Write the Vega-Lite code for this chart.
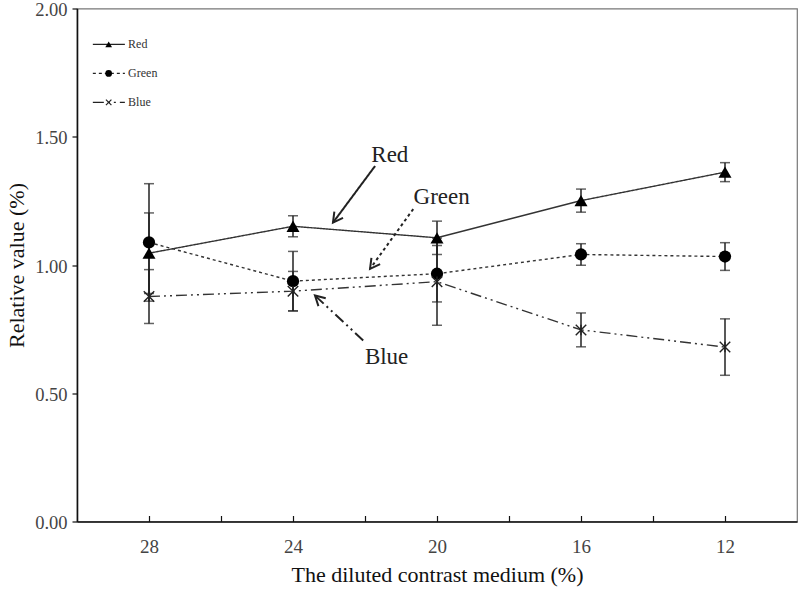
{
  "$schema": "https://vega.github.io/schema/vega-lite/v6.json",
  "width": 720,
  "height": 513,
  "autosize": "none",
  "padding": {"left": 77, "top": 8.5, "right": 3, "bottom": 67.5},
  "background": "white",
  "config": {
    "font": "Liberation Serif",
    "view": {"stroke": "#777", "strokeWidth": 1.2}
  },
  "datasets": {
    "main": [
      {"series": "Red", "conc": 28, "value": 1.046, "err": 0.157},
      {"series": "Red", "conc": 24, "value": 1.151, "err": 0.041},
      {"series": "Red", "conc": 20, "value": 1.106, "err": 0.065},
      {"series": "Red", "conc": 16, "value": 1.251, "err": 0.045},
      {"series": "Red", "conc": 12, "value": 1.362, "err": 0.037},
      {"series": "Green", "conc": 28, "value": 1.088, "err": 0.229},
      {"series": "Green", "conc": 24, "value": 0.937, "err": 0.116},
      {"series": "Green", "conc": 20, "value": 0.966, "err": 0.11},
      {"series": "Green", "conc": 16, "value": 1.041, "err": 0.042},
      {"series": "Green", "conc": 12, "value": 1.033, "err": 0.054},
      {"series": "Blue", "conc": 28, "value": 0.877, "err": 0.105},
      {"series": "Blue", "conc": 24, "value": 0.898, "err": 0.077},
      {"series": "Blue", "conc": 20, "value": 0.935, "err": 0.17},
      {"series": "Blue", "conc": 16, "value": 0.747, "err": 0.066},
      {"series": "Blue", "conc": 12, "value": 0.68, "err": 0.11}
    ],
    "arrows": [
      {"series": "Red", "x": 21.72, "y": 1.386, "x2": 22.89, "y2": 1.165},
      {"series": "Green", "x": 20.66, "y": 1.218, "x2": 21.86, "y2": 0.985},
      {"series": "Blue", "x": 22.05, "y": 0.706, "x2": 23.39, "y2": 0.881}
    ],
    "labels": [
      {"series": "Red", "x": 21.31, "y": 1.427},
      {"series": "Green", "x": 19.87, "y": 1.264},
      {"series": "Blue", "x": 21.4, "y": 0.641}
    ],
    "legend": [
      {"series": "Red", "x": 29.56, "x2": 28.67, "xm": 29.12, "xt": 28.58, "y": 1.86},
      {"series": "Green", "x": 29.56, "x2": 28.67, "xm": 29.12, "xt": 28.58, "y": 1.747},
      {"series": "Blue", "x": 29.56, "x2": 28.67, "xm": 29.12, "xt": 28.58, "y": 1.634}
    ]
  },
  "layer": [
    {
      "data": {"name": "main"},
      "mark": {"type": "errorbar", "ticks": {"size": 10, "thickness": 1.5, "color": "#222"}, "rule": {"strokeWidth": 1.5, "color": "#222"}},
      "encoding": {
        "x": {"field": "conc", "type": "quantitative",
          "scale": {"domain": [30, 10], "nice": false, "zero": false},
          "axis": {
            "values": [28, 26, 24, 22, 20, 18, 16, 14, 12],
            "labelExpr": "datum.value % 4 == 0 ? datum.value : ''",
            "title": "The diluted contrast medium (%)",
            "grid": false,
            "domainColor": "#111", "domainWidth": 1.6,
            "tickColor": "#111", "tickWidth": 1.2, "tickSize": -6,
            "labelPadding": 22, "labelFontSize": 19, "labelColor": "#444",
            "labelFont": "Liberation Serif",
            "titleFont": "Liberation Serif", "titleFontSize": 22, "titleFontWeight": "normal",
            "titleColor": "#111", "titlePadding": 8
          }},
        "y": {"field": "value", "type": "quantitative",
          "scale": {"domain": [0, 2], "nice": false},
          "axis": {
            "values": [0, 0.5, 1, 1.5, 2],
            "format": ".2f",
            "title": "Relative value (%)",
            "grid": false,
            "domainColor": "#111", "domainWidth": 1.6,
            "tickColor": "#111", "tickWidth": 1.2, "tickSize": 5,
            "labelPadding": 5, "labelFontSize": 18.5, "labelOffset": 1, "labelColor": "#444",
            "labelFont": "Liberation Serif",
            "titleFont": "Liberation Serif", "titleFontSize": 22, "titleFontWeight": "normal",
            "titleColor": "#111", "titlePadding": 6
          }},
        "yError": {"field": "err"}
      }
    },
    {
      "data": {"name": "main"},
      "mark": {"type": "line", "strokeWidth": 1.4, "color": "#333"},
      "encoding": {
        "x": {"field": "conc", "type": "quantitative"},
        "y": {"field": "value", "type": "quantitative"},
        "detail": {"field": "series"},
        "strokeDash": {"field": "series", "type": "nominal",
          "scale": {"domain": ["Red", "Green", "Blue"], "range": [[1, 0], [3, 3], [11, 4, 2, 4, 2, 4]]},
          "legend": null}
      }
    },
    {
      "data": {"name": "main"},
      "transform": [{"filter": "datum.series != 'Blue'"}],
      "mark": {"type": "point", "filled": true, "color": "#000", "opacity": 1},
      "encoding": {
        "x": {"field": "conc", "type": "quantitative"},
        "y": {"field": "value", "type": "quantitative"},
        "shape": {"field": "series", "type": "nominal",
          "scale": {"domain": ["Red", "Green"], "range": ["triangle-up", "circle"]}, "legend": null},
        "size": {"field": "series", "type": "nominal",
          "scale": {"domain": ["Red", "Green"], "range": [170, 150]}, "legend": null}
      }
    },
    {
      "data": {"name": "main"},
      "transform": [{"filter": "datum.series == 'Blue'"}],
      "mark": {"type": "point", "filled": false, "shape": "M -1 -1 L 1 1 M -1 1 L 1 -1 M 0 -1 L 0 1", "size": 110, "stroke": "#222", "strokeWidth": 1.4, "opacity": 1},
      "encoding": {
        "x": {"field": "conc", "type": "quantitative"},
        "y": {"field": "value", "type": "quantitative"}
      }
    },
    {
      "data": {"name": "arrows"},
      "mark": {"type": "rule", "strokeWidth": 2, "color": "#222"},
      "encoding": {
        "x": {"field": "x", "type": "quantitative"},
        "y": {"field": "y", "type": "quantitative"},
        "x2": {"field": "x2"},
        "y2": {"field": "y2"},
        "strokeDash": {"field": "series", "type": "nominal",
          "scale": {"domain": ["Red", "Green", "Blue"], "range": [[1, 0], [7, 4], [9, 4, 2, 4]]},
          "legend": null}
      }
    },
    {
      "data": {"name": "arrows"},
      "transform": [{"filter": "datum.series == 'Red'"}],
      "mark": {"type": "point", "filled": false, "shape": "M -0.55 1 L 0 0 L 0.55 1", "size": 380, "stroke": "#222", "strokeWidth": 2, "opacity": 1, "angle": 216},
      "encoding": {"x": {"field": "x2", "type": "quantitative"}, "y": {"field": "y2", "type": "quantitative"}}
    },
    {
      "data": {"name": "arrows"},
      "transform": [{"filter": "datum.series == 'Green'"}],
      "mark": {"type": "point", "filled": false, "shape": "M -0.55 1 L 0 0 L 0.55 1", "size": 380, "stroke": "#222", "strokeWidth": 2, "opacity": 1, "angle": 216},
      "encoding": {"x": {"field": "x2", "type": "quantitative"}, "y": {"field": "y2", "type": "quantitative"}}
    },
    {
      "data": {"name": "arrows"},
      "transform": [{"filter": "datum.series == 'Blue'"}],
      "mark": {"type": "point", "filled": false, "shape": "M -0.55 1 L 0 0 L 0.55 1", "size": 380, "stroke": "#222", "strokeWidth": 2, "opacity": 1, "angle": 313},
      "encoding": {"x": {"field": "x2", "type": "quantitative"}, "y": {"field": "y2", "type": "quantitative"}}
    },
    {
      "data": {"name": "labels"},
      "mark": {"type": "text", "font": "Liberation Serif", "fontSize": 23, "color": "#222", "align": "center", "baseline": "middle"},
      "encoding": {
        "x": {"field": "x", "type": "quantitative"},
        "y": {"field": "y", "type": "quantitative"},
        "text": {"field": "series"}
      }
    },
    {
      "data": {"name": "legend"},
      "mark": {"type": "rule", "strokeWidth": 1.3, "color": "#222"},
      "encoding": {
        "x": {"field": "x", "type": "quantitative"},
        "x2": {"field": "x2"},
        "y": {"field": "y", "type": "quantitative"},
        "strokeDash": {"field": "series", "type": "nominal",
          "scale": {"domain": ["Red", "Green", "Blue"], "range": [[1, 0], [3, 4], [6, 3]]},
          "legend": null}
      }
    },
    {
      "data": {"name": "legend"},
      "transform": [{"filter": "datum.series != 'Blue'"}],
      "mark": {"type": "point", "filled": true, "color": "#000", "opacity": 1},
      "encoding": {
        "x": {"field": "xm", "type": "quantitative"},
        "y": {"field": "y", "type": "quantitative"},
        "shape": {"field": "series", "type": "nominal",
          "scale": {"domain": ["Red", "Green"], "range": ["triangle-up", "circle"]}, "legend": null},
        "size": {"value": 45}
      }
    },
    {
      "data": {"name": "legend"},
      "transform": [{"filter": "datum.series == 'Blue'"}],
      "mark": {"type": "point", "filled": false, "shape": "M -1 -1 L 1 1 M -1 1 L 1 -1", "size": 30, "stroke": "#222", "strokeWidth": 1.2, "opacity": 1},
      "encoding": {
        "x": {"field": "xm", "type": "quantitative"},
        "y": {"field": "y", "type": "quantitative"}
      }
    },
    {
      "data": {"name": "legend"},
      "mark": {"type": "text", "font": "Liberation Serif", "fontSize": 12, "color": "#333", "align": "left", "baseline": "middle"},
      "encoding": {
        "x": {"field": "xt", "type": "quantitative"},
        "y": {"field": "y", "type": "quantitative"},
        "text": {"field": "series"}
      }
    }
  ]
}
